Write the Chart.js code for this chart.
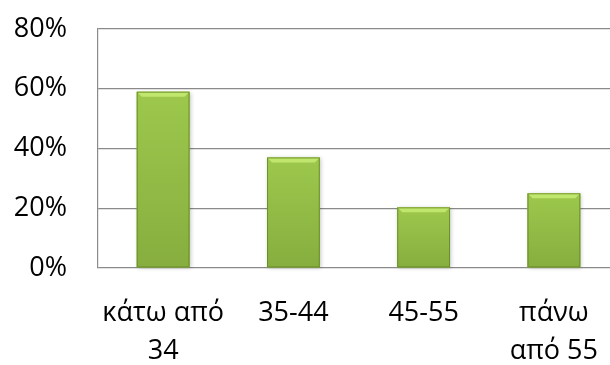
<!DOCTYPE html>
<html>
<head>
<meta charset="utf-8">
<script src="https://cdn.jsdelivr.net/npm/chart.js@4/dist/chart.umd.min.js"></script>
<style>
    html, body { margin: 0; padding: 0; background: #fff; overflow: hidden; }
    #wrap { width: 624px; height: 365px; }
</style>
</head>
<body>
<div id="wrap"><canvas id="ageChart"></canvas></div>
<script>
// age groups and share of answers (%)
const categories = [['κάτω από', '34'], '35-44', '45-55', ['πάνω', 'από 55']];
const values = [59, 37, 20.3, 25];
const yTicks = [0, 20, 40, 60, 80];

const fontFamily = '"Open Sans", "Noto Sans", sans-serif';

// green bars with a lighter centre and a bevelled top
function barFill(context) {
    const chart = context.chart;
    const el = context.element;
    if (!chart.chartArea || !el || el.x === undefined) return '#97c24a';
    const half = el.width / 2;
    const g = chart.ctx.createLinearGradient(el.x - half, 0, el.x + half, 0);
    g.addColorStop(0, '#7f9e36');
    g.addColorStop(0.1, '#96c042');
    g.addColorStop(0.5, '#9dc945');
    g.addColorStop(0.9, '#94bd41');
    g.addColorStop(1, '#769431');
    return g;
}

const bevelPlugin = {
    id: 'bevel',
    beforeDatasetsDraw(chart) {
        // soft shadow behind the bars
        const ctx = chart.ctx;
        chart.getDatasetMeta(0).data.forEach(bar => {
            const half = bar.width / 2;
            ctx.save();
            ctx.shadowColor = 'rgba(0,0,0,0.22)';
            ctx.shadowBlur = 4;
            ctx.shadowOffsetX = 1;
            ctx.shadowOffsetY = 1;
            ctx.fillStyle = '#8cb044';
            ctx.fillRect(bar.x - half, bar.y, bar.width, bar.base - bar.y);
            ctx.restore();
        });
    },
    afterDatasetsDraw(chart) {
        const ctx = chart.ctx;
        chart.getDatasetMeta(0).data.forEach(bar => {
            const half = bar.width / 2;
            const l = bar.x - half, r = bar.x + half, t = bar.y, b = bar.base;
            const h = b - t;
            ctx.save();
            // vertical shading, darker towards the bottom
            const v = ctx.createLinearGradient(0, t, 0, b);
            v.addColorStop(0, 'rgba(190,235,90,0.15)');
            v.addColorStop(1, 'rgba(40,60,0,0.15)');
            ctx.fillStyle = v;
            ctx.fillRect(l, t, bar.width, h);
            // bevel on top
            const bv = 5;
            ctx.beginPath();
            ctx.moveTo(l, t);
            ctx.lineTo(r, t);
            ctx.lineTo(r - bv, t + bv);
            ctx.lineTo(l + bv, t + bv);
            ctx.closePath();
            ctx.fillStyle = 'rgba(200,235,115,0.85)';
            ctx.fill();
            ctx.strokeStyle = 'rgba(100,135,35,0.8)';
            ctx.lineWidth = 1;
            ctx.strokeRect(l + 0.5, t + 0.5, bar.width - 1, h - 1);
            ctx.restore();
        });
    }
};

const ctx = document.getElementById('ageChart');
new Chart(ctx, {
    type: 'bar',
    data: {
        labels: categories,
        datasets: [{
            label: 'Ηλικία',
            data: values,
            backgroundColor: barFill,
            borderWidth: 0,
            barPercentage: 0.405,
            categoryPercentage: 1
        }]
    },
    options: {
        responsive: true,
        maintainAspectRatio: false,
        animation: false,
        layout: { padding: { top: 29, left: 0, right: 0, bottom: 0 } },
        plugins: {
            legend: { display: false },
            tooltip: { enabled: false }
        },
        scales: {
            x: {
                grid: { display: false, drawTicks: false },
                border: { display: false },
                ticks: {
                    color: '#000',
                    padding: 26,
                    maxRotation: 0,
                    autoSkip: false,
                    font: { family: fontFamily, size: 27, lineHeight: 1.42 }
                },
                afterFit(scale) { scale.height = 97; }
            },
            y: {
                min: 0,
                max: 80,
                afterBuildTicks(scale) { scale.ticks = yTicks.map(v => ({ value: v })); },
                // invisible tick marks push the labels away from the axis
                grid: { color: '#8a8a8a', lineWidth: 1.2, drawTicks: true, tickLength: 28, tickColor: 'rgba(0,0,0,0)' },
                border: { display: true, color: '#8a8a8a', width: 1.2 },
                ticks: {
                    color: '#000',
                    padding: 3,
                    font: { family: fontFamily, size: 27 },
                    callback: v => v + '%'
                },
                afterFit(scale) { scale.width = 98; }
            }
        }
    },
    plugins: [bevelPlugin]
});
</script>
</body>
</html>
